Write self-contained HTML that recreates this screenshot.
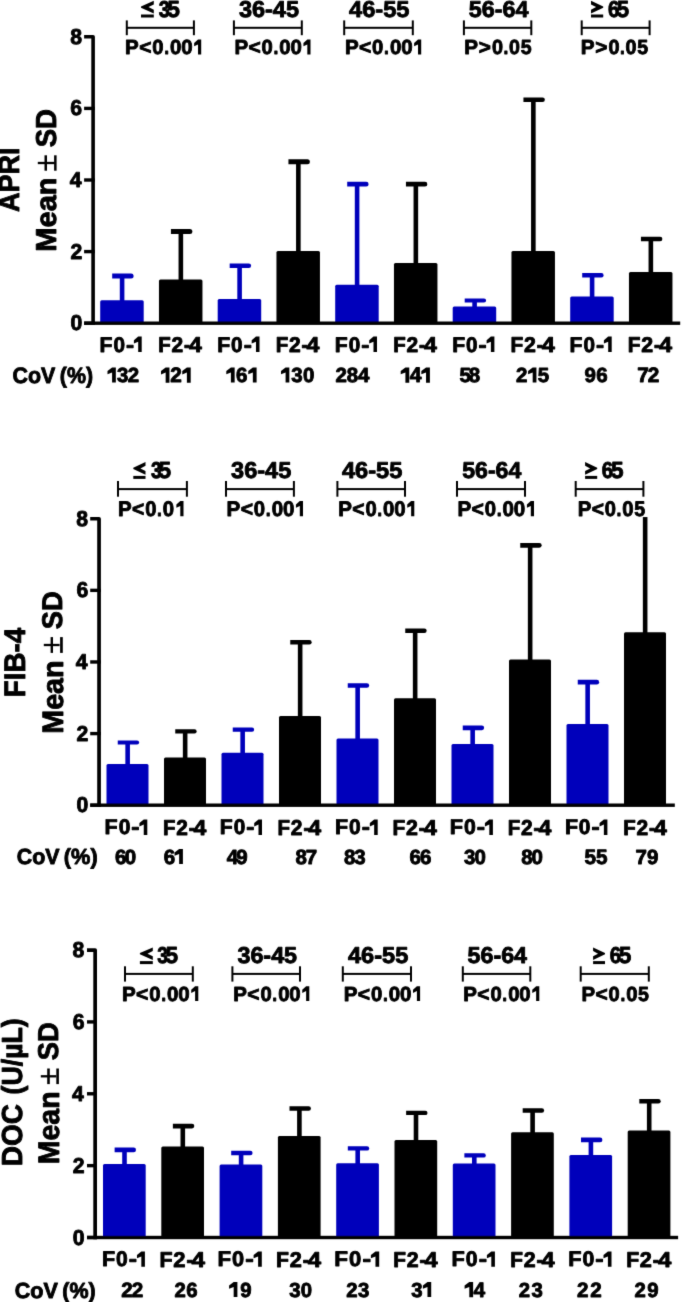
<!DOCTYPE html>
<html><head><meta charset="utf-8"><style>
html,body{margin:0;padding:0;background:#fff;width:685px;height:1302px;overflow:hidden}
svg{display:block;will-change:transform}
text{font-family:"Liberation Sans",sans-serif;font-weight:bold;fill:#000;stroke:#000;stroke-width:0.90px;stroke-linejoin:round;text-rendering:geometricPrecision}
</style></head><body>
<svg width="685" height="1302" viewBox="0 0 685 1302">
<defs><filter id="bl" x="0" y="0" width="685" height="1302" filterUnits="userSpaceOnUse"><feConvolveMatrix order="3" kernelMatrix="0.01134 0.08382 0.01134 0.08382 0.61935 0.08382 0.01134 0.08382 0.01134" divisor="1" edgeMode="duplicate" preserveAlpha="false"/></filter></defs>
<rect width="685" height="1302" fill="#fff"/>
<g filter="url(#bl)">
<rect x="100.20" y="300.30" width="43.50" height="22.90" fill="#0000bb" rx="1.5"/>
<rect x="119.80" y="276.10" width="4.60" height="25.20" fill="#0000bb"/>
<path d="M112.20,273.60 H131.10 A2.50,2.50 0 0 1 131.10,278.60 H112.20 Z" fill="#0000bb"/>
<rect x="158.95" y="279.40" width="43.50" height="43.80" fill="#000" rx="1.5"/>
<rect x="178.55" y="231.50" width="4.60" height="48.90" fill="#000"/>
<path d="M170.95,229.00 H189.85 A2.50,2.50 0 0 1 189.85,234.00 H170.95 Z" fill="#000"/>
<rect x="217.70" y="298.90" width="43.50" height="24.30" fill="#0000bb" rx="1.5"/>
<rect x="237.30" y="265.70" width="4.60" height="34.20" fill="#0000bb"/>
<path d="M229.70,263.40 H248.80 A2.30,2.30 0 0 1 248.80,268.00 H229.70 Z" fill="#0000bb"/>
<rect x="276.45" y="251.00" width="43.50" height="72.20" fill="#000" rx="1.5"/>
<rect x="296.05" y="161.70" width="4.60" height="90.30" fill="#000"/>
<path d="M288.45,159.20 H307.35 A2.50,2.50 0 0 1 307.35,164.20 H288.45 Z" fill="#000"/>
<rect x="335.20" y="284.80" width="43.50" height="38.40" fill="#0000bb" rx="1.5"/>
<rect x="354.80" y="184.15" width="4.60" height="101.65" fill="#0000bb"/>
<path d="M347.20,181.80 H366.25 A2.35,2.35 0 0 1 366.25,186.50 H347.20 Z" fill="#0000bb"/>
<rect x="393.95" y="263.00" width="43.50" height="60.20" fill="#000" rx="1.5"/>
<rect x="413.55" y="184.15" width="4.60" height="79.85" fill="#000"/>
<path d="M405.95,181.80 H425.00 A2.35,2.35 0 0 1 425.00,186.50 H405.95 Z" fill="#000"/>
<rect x="452.70" y="306.40" width="43.50" height="16.80" fill="#0000bb" rx="1.5"/>
<rect x="472.30" y="300.50" width="4.60" height="6.90" fill="#0000bb"/>
<path d="M464.70,298.40 H484.00 A2.10,2.10 0 0 1 484.00,302.60 H464.70 Z" fill="#0000bb"/>
<rect x="511.45" y="251.00" width="43.50" height="72.20" fill="#000" rx="1.5"/>
<rect x="531.05" y="99.70" width="4.60" height="152.30" fill="#000"/>
<path d="M523.45,97.40 H542.55 A2.30,2.30 0 0 1 542.55,102.00 H523.45 Z" fill="#000"/>
<rect x="570.20" y="296.40" width="43.50" height="26.80" fill="#0000bb" rx="1.5"/>
<rect x="589.80" y="275.35" width="4.60" height="22.05" fill="#0000bb"/>
<path d="M582.20,273.10 H601.35 A2.25,2.25 0 0 1 601.35,277.60 H582.20 Z" fill="#0000bb"/>
<rect x="628.95" y="272.00" width="43.50" height="51.20" fill="#000" rx="1.5"/>
<rect x="648.55" y="239.00" width="4.60" height="34.00" fill="#000"/>
<path d="M640.95,236.80 H660.15 A2.20,2.20 0 0 1 660.15,241.20 H640.95 Z" fill="#000"/>
<path d="M84.10,36.80 H93.10 V324.90" fill="none" stroke="#000" stroke-width="3.60" stroke-linejoin="round"/>
<rect x="84.10" y="106.70" width="10.80" height="3.40" fill="#000"/>
<rect x="84.10" y="178.30" width="10.80" height="3.40" fill="#000"/>
<rect x="84.10" y="249.90" width="10.80" height="3.40" fill="#000"/>
<rect x="84.10" y="321.50" width="10.80" height="3.40" fill="#000"/>
<rect x="84.10" y="321.50" width="596.10" height="3.40" fill="#000"/>
<text transform="translate(70.24,43.83) scale(0.9800,1)" font-size="21.61">8</text>
<text transform="translate(70.35,115.43) scale(0.9800,1)" font-size="21.61">6</text>
<text transform="translate(69.69,187.03) scale(0.9800,1)" font-size="21.61">4</text>
<text transform="translate(70.43,258.74) scale(0.9800,1)" font-size="21.61">2</text>
<text transform="translate(70.45,330.23) scale(0.9800,1)" font-size="21.61">0</text>
<rect x="125.80" y="20.40" width="2.00" height="14.80" fill="#000"/>
<rect x="192.90" y="20.40" width="2.00" height="14.80" fill="#000"/>
<rect x="126.80" y="26.80" width="67.10" height="2.00" fill="#000"/>
<rect x="232.90" y="20.40" width="2.00" height="14.80" fill="#000"/>
<rect x="300.80" y="20.40" width="2.00" height="14.80" fill="#000"/>
<rect x="233.90" y="26.80" width="67.90" height="2.00" fill="#000"/>
<rect x="343.20" y="20.40" width="2.00" height="14.80" fill="#000"/>
<rect x="411.80" y="20.40" width="2.00" height="14.80" fill="#000"/>
<rect x="344.20" y="26.80" width="68.60" height="2.00" fill="#000"/>
<rect x="462.90" y="20.40" width="2.00" height="14.80" fill="#000"/>
<rect x="530.30" y="20.40" width="2.00" height="14.80" fill="#000"/>
<rect x="463.90" y="26.80" width="67.40" height="2.00" fill="#000"/>
<rect x="580.70" y="20.40" width="2.00" height="14.80" fill="#000"/>
<rect x="648.60" y="20.40" width="2.00" height="14.80" fill="#000"/>
<rect x="581.70" y="26.80" width="67.90" height="2.00" fill="#000"/>
<text transform="translate(238.92,16.80) scale(1.0220,1)" font-size="22.99">36-45</text>
<text transform="translate(349.11,16.82) scale(1.0259,1)" font-size="23.02">46-55</text>
<text transform="translate(468.73,16.82) scale(1.0146,1)" font-size="23.02">56-64</text>
<rect x="141.00" y="14.50" width="12.80" height="3.00" fill="#000"/>
<polygon points="153.80,0.70 141.00,6.45 141.00,7.65 153.80,13.40 153.80,9.70 148.46,7.05 153.80,4.40" fill="#000"/>
<text transform="translate(158.83,16.80) scale(0.8600,1)" font-size="22.99">3</text>
<text transform="translate(167.33,16.82) scale(0.9755,1)" font-size="23.35">5</text>
<rect x="591.00" y="14.50" width="12.20" height="3.00" fill="#000"/>
<polygon points="591.00,0.70 603.20,6.45 603.20,7.65 591.00,13.40 591.00,9.70 596.09,7.05 591.00,4.40" fill="#000"/>
<text transform="translate(607.94,16.82) scale(0.8902,1)" font-size="23.02">6</text>
<text transform="translate(616.74,16.82) scale(0.9515,1)" font-size="23.35">5</text>
<text transform="translate(125.08,54.05) scale(1.0071,1)" font-size="20.34">P</text>
<text transform="translate(139.14,54.05) scale(1.0317,1)" font-size="20.34">&lt;</text>
<text transform="translate(152.25,54.05) scale(0.9927,1)" font-size="20.34">0</text>
<text transform="translate(164.21,54.05) scale(0.8561,1)" font-size="20.34">.</text>
<text transform="translate(169.99,54.05) scale(1.0022,1)" font-size="20.34">0</text>
<text transform="translate(181.18,54.05) scale(1.0022,1)" font-size="20.34">0</text>
<polygon points="198.02,39.60 201.20,39.60 201.20,54.50 198.02,54.50 198.02,44.52 194.14,46.31 194.14,43.03" fill="#000"/>
<text transform="translate(234.38,54.05) scale(1.0071,1)" font-size="20.34">P</text>
<text transform="translate(248.44,54.05) scale(1.0317,1)" font-size="20.34">&lt;</text>
<text transform="translate(261.55,54.05) scale(0.9927,1)" font-size="20.34">0</text>
<text transform="translate(273.51,54.05) scale(0.8561,1)" font-size="20.34">.</text>
<text transform="translate(279.29,54.05) scale(1.0022,1)" font-size="20.34">0</text>
<text transform="translate(290.48,54.05) scale(1.0022,1)" font-size="20.34">0</text>
<polygon points="307.32,39.60 310.50,39.60 310.50,54.50 307.32,54.50 307.32,44.52 303.44,46.31 303.44,43.03" fill="#000"/>
<text transform="translate(344.88,54.05) scale(1.0098,1)" font-size="20.34">P</text>
<text transform="translate(358.98,54.05) scale(1.0344,1)" font-size="20.34">&lt;</text>
<text transform="translate(372.12,54.05) scale(0.9953,1)" font-size="20.34">0</text>
<text transform="translate(384.11,54.05) scale(0.8584,1)" font-size="20.34">.</text>
<text transform="translate(389.91,54.05) scale(1.0049,1)" font-size="20.34">0</text>
<text transform="translate(401.13,54.05) scale(1.0049,1)" font-size="20.34">0</text>
<polygon points="418.02,39.60 421.20,39.60 421.20,54.50 418.02,54.50 418.02,44.52 414.12,46.31 414.12,43.03" fill="#000"/>
<text transform="translate(464.37,54.05) scale(1.0136,1)" font-size="20.34">P</text>
<text transform="translate(478.77,54.05) scale(1.0174,1)" font-size="20.34">&gt;</text>
<text transform="translate(492.01,54.05) scale(0.9738,1)" font-size="20.34">0</text>
<text transform="translate(503.45,54.05) scale(0.8480,1)" font-size="20.34">.</text>
<text transform="translate(509.08,54.05) scale(0.9644,1)" font-size="20.34">0</text>
<text transform="translate(520.74,54.05) scale(0.9614,1)" font-size="20.34">5</text>
<text transform="translate(580.77,54.05) scale(1.0167,1)" font-size="20.34">P</text>
<text transform="translate(595.21,54.05) scale(1.0205,1)" font-size="20.34">&gt;</text>
<text transform="translate(608.49,54.05) scale(0.9768,1)" font-size="20.34">0</text>
<text transform="translate(619.97,54.05) scale(0.8506,1)" font-size="20.34">.</text>
<text transform="translate(625.62,54.05) scale(0.9673,1)" font-size="20.34">0</text>
<text transform="translate(637.31,54.05) scale(0.9643,1)" font-size="20.34">5</text>
<text transform="translate(99.53,351.54) scale(1.0062,1)" font-size="21.05">F</text>
<text transform="translate(113.38,351.54) scale(0.9847,1)" font-size="21.05">0</text>
<text transform="translate(125.89,351.54) scale(1.1508,1)" font-size="21.05">-</text>
<polygon points="138.19,336.61 141.70,336.61 141.70,351.99 138.19,351.99 138.19,341.69 133.91,343.53 133.91,340.15" fill="#000"/>
<text transform="translate(158.26,351.75) scale(0.9563,1)" font-size="21.35">F</text>
<text transform="translate(171.51,351.75) scale(0.9815,1)" font-size="21.35">2</text>
<text transform="translate(184.04,351.75) scale(0.8433,1)" font-size="21.35">-</text>
<text transform="translate(188.89,351.75) scale(1.0820,1)" font-size="21.35">4</text>
<text transform="translate(217.23,351.54) scale(1.0086,1)" font-size="21.05">F</text>
<text transform="translate(231.11,351.54) scale(0.9871,1)" font-size="21.05">0</text>
<text transform="translate(243.65,351.54) scale(1.1536,1)" font-size="21.05">-</text>
<polygon points="255.98,336.61 259.50,336.61 259.50,351.99 255.98,351.99 255.98,341.69 251.69,343.53 251.69,340.15" fill="#000"/>
<text transform="translate(275.66,351.75) scale(0.9608,1)" font-size="21.35">F</text>
<text transform="translate(288.97,351.75) scale(0.9861,1)" font-size="21.35">2</text>
<text transform="translate(301.56,351.75) scale(0.8472,1)" font-size="21.35">-</text>
<text transform="translate(306.43,351.75) scale(1.0870,1)" font-size="21.35">4</text>
<text transform="translate(334.83,351.54) scale(1.0062,1)" font-size="21.05">F</text>
<text transform="translate(348.68,351.54) scale(0.9847,1)" font-size="21.05">0</text>
<text transform="translate(361.19,351.54) scale(1.1508,1)" font-size="21.05">-</text>
<polygon points="373.49,336.61 377.00,336.61 377.00,351.99 373.49,351.99 373.49,341.69 369.21,343.53 369.21,340.15" fill="#000"/>
<text transform="translate(393.26,351.75) scale(0.9586,1)" font-size="21.35">F</text>
<text transform="translate(406.54,351.75) scale(0.9838,1)" font-size="21.35">2</text>
<text transform="translate(419.10,351.75) scale(0.8453,1)" font-size="21.35">-</text>
<text transform="translate(423.96,351.75) scale(1.0845,1)" font-size="21.35">4</text>
<text transform="translate(452.23,351.54) scale(1.0062,1)" font-size="21.05">F</text>
<text transform="translate(466.08,351.54) scale(0.9847,1)" font-size="21.05">0</text>
<text transform="translate(478.59,351.54) scale(1.1508,1)" font-size="21.05">-</text>
<polygon points="490.89,336.61 494.40,336.61 494.40,351.99 490.89,351.99 490.89,341.69 486.61,343.53 486.61,340.15" fill="#000"/>
<text transform="translate(510.55,351.75) scale(0.9742,1)" font-size="21.35">F</text>
<text transform="translate(524.04,351.75) scale(0.9998,1)" font-size="21.35">2</text>
<text transform="translate(536.80,351.75) scale(0.8590,1)" font-size="21.35">-</text>
<text transform="translate(541.74,351.75) scale(1.1021,1)" font-size="21.35">4</text>
<text transform="translate(569.53,351.54) scale(1.0062,1)" font-size="21.05">F</text>
<text transform="translate(583.38,351.54) scale(0.9847,1)" font-size="21.05">0</text>
<text transform="translate(595.89,351.54) scale(1.1508,1)" font-size="21.05">-</text>
<polygon points="608.19,336.61 611.70,336.61 611.70,351.99 608.19,351.99 608.19,341.69 603.91,343.53 603.91,340.15" fill="#000"/>
<text transform="translate(627.85,351.75) scale(0.9742,1)" font-size="21.35">F</text>
<text transform="translate(641.34,351.75) scale(0.9998,1)" font-size="21.35">2</text>
<text transform="translate(654.10,351.75) scale(0.8590,1)" font-size="21.35">-</text>
<text transform="translate(659.04,351.75) scale(1.1021,1)" font-size="21.35">4</text>
<text transform="translate(12.45,382.93) scale(0.9604,1)" font-size="22.32">CoV</text>
<text transform="translate(59.76,382.93) scale(0.9589,1)" font-size="22.32">(%)</text>
<polygon points="112.09,367.60 115.84,367.60 115.84,382.58 112.09,382.58 112.09,372.54 107.50,374.34 107.50,371.05" fill="#000"/>
<text transform="translate(116.97,382.13)" font-size="20.45">3</text>
<text transform="translate(127.70,382.13)" font-size="20.45">2</text>
<polygon points="165.65,367.61 169.46,367.61 169.46,382.80 165.65,382.80 165.65,372.62 161.00,374.44 161.00,371.10" fill="#000"/>
<text transform="translate(170.34,382.35)" font-size="20.77">2</text>
<polygon points="186.89,367.61 190.70,367.61 190.70,382.80 186.89,382.80 186.89,372.62 182.24,374.44 182.24,371.10" fill="#000"/>
<polygon points="230.90,367.60 234.65,367.60 234.65,382.60 230.90,382.60 230.90,372.55 226.30,374.35 226.30,371.05" fill="#000"/>
<text transform="translate(236.02,382.15)" font-size="20.48">6</text>
<polygon points="252.84,367.60 256.60,367.60 256.60,382.60 252.84,382.60 252.84,372.55 248.25,374.35 248.25,371.05" fill="#000"/>
<polygon points="285.59,367.60 289.34,367.60 289.34,382.58 285.59,382.58 285.59,372.54 281.00,374.34 281.00,371.05" fill="#000"/>
<text transform="translate(291.34,382.13)" font-size="20.45">3</text>
<text transform="translate(302.92,382.13)" font-size="20.45">0</text>
<text transform="translate(335.53,382.15)" font-size="20.48">2</text>
<text transform="translate(346.75,382.15)" font-size="20.48">8</text>
<text transform="translate(357.97,382.15)" font-size="20.48">4</text>
<polygon points="405.41,367.40 409.27,367.40 409.27,382.80 405.41,382.80 405.41,372.48 400.70,374.33 400.70,370.94" fill="#000"/>
<text transform="translate(409.71,382.35)" font-size="21.08">4</text>
<polygon points="426.04,367.40 429.90,367.40 429.90,382.80 426.04,382.80 426.04,372.48 421.33,374.33 421.33,370.94" fill="#000"/>
<text transform="translate(459.52,382.15)" font-size="20.48">5</text>
<text transform="translate(468.80,382.15)" font-size="20.48">8</text>
<text transform="translate(515.93,382.15)" font-size="20.48">2</text>
<polygon points="532.68,367.60 536.44,367.60 536.44,382.60 532.68,382.60 532.68,372.55 528.08,374.35 528.08,371.05" fill="#000"/>
<text transform="translate(537.74,382.15)" font-size="20.48">5</text>
<text transform="translate(584.53,382.15)" font-size="20.48">9</text>
<text transform="translate(596.30,382.15)" font-size="20.48">6</text>
<text transform="translate(637.36,382.35)" font-size="20.77">7</text>
<text transform="translate(647.73,382.35)" font-size="20.77">2</text>
<text transform="translate(19.45,212.06) rotate(-90) scale(0.9204,1)" font-size="29.36">APRI</text>
<text transform="translate(55.85,251.69) rotate(-90) scale(1.0092,1)" font-size="28.78">Mean</text>
<text transform="translate(55.55,147.37) rotate(-90) scale(0.9580,1)" font-size="28.78">SD</text>
<rect x="37.80" y="161.85" width="16.90" height="2.30" fill="#000"/>
<rect x="44.50" y="155.30" width="2.50" height="15.40" fill="#000"/>
<rect x="54.10" y="155.30" width="2.50" height="15.40" fill="#000"/>
<rect x="106.50" y="764.00" width="42.00" height="41.20" fill="#0000bb" rx="1.5"/>
<rect x="125.35" y="742.50" width="4.60" height="22.50" fill="#0000bb"/>
<path d="M117.75,740.40 H137.05 A2.10,2.10 0 0 1 137.05,744.60 H117.75 Z" fill="#0000bb"/>
<rect x="164.00" y="757.40" width="42.00" height="47.80" fill="#000" rx="1.5"/>
<rect x="182.85" y="731.45" width="4.60" height="26.95" fill="#000"/>
<path d="M175.25,729.30 H194.50 A2.15,2.15 0 0 1 194.50,733.60 H175.25 Z" fill="#000"/>
<rect x="221.50" y="752.80" width="42.00" height="52.40" fill="#0000bb" rx="1.5"/>
<rect x="240.35" y="729.70" width="4.60" height="24.10" fill="#0000bb"/>
<path d="M232.75,727.60 H252.05 A2.10,2.10 0 0 1 252.05,731.80 H232.75 Z" fill="#0000bb"/>
<rect x="279.00" y="716.00" width="42.00" height="89.20" fill="#000" rx="1.5"/>
<rect x="297.85" y="642.20" width="4.60" height="74.80" fill="#000"/>
<path d="M290.25,640.00 H309.45 A2.20,2.20 0 0 1 309.45,644.40 H290.25 Z" fill="#000"/>
<rect x="336.50" y="738.40" width="42.00" height="66.80" fill="#0000bb" rx="1.5"/>
<rect x="355.35" y="685.45" width="4.60" height="53.95" fill="#0000bb"/>
<path d="M347.75,683.20 H366.90 A2.25,2.25 0 0 1 366.90,687.70 H347.75 Z" fill="#0000bb"/>
<rect x="394.00" y="698.20" width="42.00" height="107.00" fill="#000" rx="1.5"/>
<rect x="412.85" y="630.75" width="4.60" height="68.45" fill="#000"/>
<path d="M405.25,628.50 H424.40 A2.25,2.25 0 0 1 424.40,633.00 H405.25 Z" fill="#000"/>
<rect x="451.50" y="743.90" width="42.00" height="61.30" fill="#0000bb" rx="1.5"/>
<rect x="470.35" y="727.85" width="4.60" height="17.05" fill="#0000bb"/>
<path d="M462.75,725.50 H481.80 A2.35,2.35 0 0 1 481.80,730.20 H462.75 Z" fill="#0000bb"/>
<rect x="509.00" y="659.50" width="42.00" height="145.70" fill="#000" rx="1.5"/>
<rect x="527.85" y="545.35" width="4.60" height="115.15" fill="#000"/>
<path d="M520.25,543.00 H539.30 A2.35,2.35 0 0 1 539.30,547.70 H520.25 Z" fill="#000"/>
<rect x="566.50" y="724.10" width="42.00" height="81.10" fill="#0000bb" rx="1.5"/>
<rect x="585.35" y="682.15" width="4.60" height="42.95" fill="#0000bb"/>
<path d="M577.75,679.80 H596.80 A2.35,2.35 0 0 1 596.80,684.50 H577.75 Z" fill="#0000bb"/>
<rect x="624.00" y="632.30" width="42.00" height="172.90" fill="#000" rx="1.5"/>
<rect x="642.85" y="517.05" width="4.60" height="116.25" fill="#000"/>
<path d="M90.20,518.75 H99.05 V806.90" fill="none" stroke="#000" stroke-width="3.70" stroke-linejoin="round"/>
<rect x="90.20" y="588.66" width="10.70" height="3.40" fill="#000"/>
<rect x="90.20" y="660.27" width="10.70" height="3.40" fill="#000"/>
<rect x="90.20" y="731.89" width="10.70" height="3.40" fill="#000"/>
<rect x="90.20" y="803.50" width="10.70" height="3.40" fill="#000"/>
<rect x="90.20" y="803.50" width="584.60" height="3.40" fill="#000"/>
<text transform="translate(76.34,525.78) scale(0.9800,1)" font-size="21.61">8</text>
<text transform="translate(76.45,597.40) scale(0.9800,1)" font-size="21.61">6</text>
<text transform="translate(75.79,669.01) scale(0.9800,1)" font-size="21.61">4</text>
<text transform="translate(76.53,740.73) scale(0.9800,1)" font-size="21.61">2</text>
<text transform="translate(76.55,812.23) scale(0.9800,1)" font-size="21.61">0</text>
<rect x="117.00" y="481.00" width="2.00" height="15.70" fill="#000"/>
<rect x="185.90" y="481.00" width="2.00" height="15.70" fill="#000"/>
<rect x="118.00" y="488.10" width="68.90" height="2.00" fill="#000"/>
<rect x="225.00" y="481.00" width="2.00" height="15.70" fill="#000"/>
<rect x="292.90" y="481.00" width="2.00" height="15.70" fill="#000"/>
<rect x="226.00" y="488.10" width="67.90" height="2.00" fill="#000"/>
<rect x="336.40" y="481.00" width="2.00" height="15.70" fill="#000"/>
<rect x="404.00" y="481.00" width="2.00" height="15.70" fill="#000"/>
<rect x="337.40" y="488.10" width="67.60" height="2.00" fill="#000"/>
<rect x="456.00" y="481.00" width="2.00" height="15.70" fill="#000"/>
<rect x="524.00" y="481.00" width="2.00" height="15.70" fill="#000"/>
<rect x="457.00" y="488.10" width="68.00" height="2.00" fill="#000"/>
<rect x="574.70" y="481.00" width="2.00" height="15.70" fill="#000"/>
<rect x="642.40" y="481.00" width="2.00" height="15.70" fill="#000"/>
<rect x="575.70" y="488.10" width="67.70" height="2.00" fill="#000"/>
<text transform="translate(231.12,478.20) scale(1.0220,1)" font-size="22.99">36-45</text>
<text transform="translate(341.91,478.22) scale(1.0259,1)" font-size="23.02">46-55</text>
<text transform="translate(462.24,478.22) scale(1.0027,1)" font-size="23.02">56-64</text>
<rect x="133.30" y="475.90" width="12.20" height="3.00" fill="#000"/>
<polygon points="145.50,462.10 133.30,467.85 133.30,469.05 145.50,474.80 145.50,471.10 140.41,468.45 145.50,465.80" fill="#000"/>
<text transform="translate(151.03,478.20) scale(0.8275,1)" font-size="22.99">3</text>
<text transform="translate(158.53,478.22) scale(0.9675,1)" font-size="23.35">5</text>
<rect x="585.10" y="475.90" width="12.10" height="3.00" fill="#000"/>
<polygon points="585.10,462.10 597.20,467.85 597.20,469.05 585.10,474.80 585.10,471.10 590.15,468.45 585.10,465.80" fill="#000"/>
<text transform="translate(601.85,478.22) scale(0.8819,1)" font-size="23.02">6</text>
<text transform="translate(611.03,478.22) scale(0.9675,1)" font-size="23.35">5</text>
<text transform="translate(118.07,515.84) scale(0.9724,1)" font-size="21.05">P</text>
<text transform="translate(132.08,515.84) scale(0.9965,1)" font-size="21.05">&lt;</text>
<text transform="translate(145.15,515.84) scale(0.9589,1)" font-size="21.05">0</text>
<text transform="translate(157.07,515.84) scale(0.8313,1)" font-size="21.05">.</text>
<text transform="translate(162.83,515.84) scale(0.9681,1)" font-size="21.05">0</text>
<polygon points="180.29,500.91 183.50,500.91 183.50,516.29 180.29,516.29 180.29,505.99 176.37,507.83 176.37,504.45" fill="#000"/>
<text transform="translate(226.56,515.84) scale(0.9796,1)" font-size="21.05">P</text>
<text transform="translate(240.68,515.84) scale(1.0038,1)" font-size="21.05">&lt;</text>
<text transform="translate(253.84,515.84) scale(0.9660,1)" font-size="21.05">0</text>
<text transform="translate(265.85,515.84) scale(0.8374,1)" font-size="21.05">.</text>
<text transform="translate(271.65,515.84) scale(0.9752,1)" font-size="21.05">0</text>
<text transform="translate(282.88,515.84) scale(0.9752,1)" font-size="21.05">0</text>
<polygon points="299.81,500.91 303.00,500.91 303.00,516.29 299.81,516.29 299.81,505.99 295.92,507.83 295.92,504.45" fill="#000"/>
<text transform="translate(338.26,515.84) scale(0.9744,1)" font-size="21.05">P</text>
<text transform="translate(352.31,515.84) scale(0.9985,1)" font-size="21.05">&lt;</text>
<text transform="translate(365.40,515.84) scale(0.9608,1)" font-size="21.05">0</text>
<text transform="translate(377.34,515.84) scale(0.8330,1)" font-size="21.05">.</text>
<text transform="translate(383.11,515.84) scale(0.9701,1)" font-size="21.05">0</text>
<text transform="translate(394.29,515.84) scale(0.9701,1)" font-size="21.05">0</text>
<polygon points="411.13,500.91 414.30,500.91 414.30,516.29 411.13,516.29 411.13,505.99 407.25,507.83 407.25,504.45" fill="#000"/>
<text transform="translate(457.46,515.84) scale(0.9808,1)" font-size="21.05">P</text>
<text transform="translate(471.59,515.84) scale(1.0051,1)" font-size="21.05">&lt;</text>
<text transform="translate(484.77,515.84) scale(0.9672,1)" font-size="21.05">0</text>
<text transform="translate(496.80,515.84) scale(0.8385,1)" font-size="21.05">.</text>
<text transform="translate(502.61,515.84) scale(0.9765,1)" font-size="21.05">0</text>
<text transform="translate(513.86,515.84) scale(0.9765,1)" font-size="21.05">0</text>
<polygon points="530.81,500.91 534.00,500.91 534.00,516.29 530.81,516.29 530.81,505.99 526.91,507.83 526.91,504.45" fill="#000"/>
<text transform="translate(577.67,515.84) scale(0.9708,1)" font-size="21.05">P</text>
<text transform="translate(591.66,515.84) scale(0.9948,1)" font-size="21.05">&lt;</text>
<text transform="translate(604.70,515.84) scale(0.9573,1)" font-size="21.05">0</text>
<text transform="translate(616.60,515.84) scale(0.8299,1)" font-size="21.05">.</text>
<text transform="translate(622.35,515.84) scale(0.9665,1)" font-size="21.05">0</text>
<text transform="translate(634.18,515.84) scale(0.9360,1)" font-size="21.05">5</text>
<text transform="translate(104.62,834.44) scale(1.0121,1)" font-size="21.19">F</text>
<text transform="translate(118.63,834.44) scale(0.9906,1)" font-size="21.19">0</text>
<text transform="translate(131.29,834.44) scale(1.1581,1)" font-size="21.19">-</text>
<polygon points="143.75,819.41 147.30,819.41 147.30,834.89 143.75,834.89 143.75,824.52 139.41,826.38 139.41,822.97" fill="#000"/>
<text transform="translate(163.06,834.65) scale(0.9460,1)" font-size="21.49">F</text>
<text transform="translate(176.25,834.65) scale(0.9710,1)" font-size="21.49">2</text>
<text transform="translate(188.72,834.65) scale(0.8346,1)" font-size="21.49">-</text>
<text transform="translate(193.55,834.65) scale(1.0703,1)" font-size="21.49">4</text>
<text transform="translate(219.83,834.44) scale(1.0000,1)" font-size="21.19">F</text>
<text transform="translate(233.67,834.44) scale(0.9787,1)" font-size="21.19">0</text>
<text transform="translate(246.18,834.44) scale(1.1442,1)" font-size="21.19">-</text>
<polygon points="258.49,819.41 262.00,819.41 262.00,834.89 258.49,834.89 258.49,824.52 254.21,826.38 254.21,822.97" fill="#000"/>
<text transform="translate(277.56,834.65) scale(0.9527,1)" font-size="21.49">F</text>
<text transform="translate(290.84,834.65) scale(0.9778,1)" font-size="21.49">2</text>
<text transform="translate(303.39,834.65) scale(0.8404,1)" font-size="21.49">-</text>
<text transform="translate(308.25,834.65) scale(1.0778,1)" font-size="21.49">4</text>
<text transform="translate(335.12,834.44) scale(1.0097,1)" font-size="21.19">F</text>
<text transform="translate(349.10,834.44) scale(0.9882,1)" font-size="21.19">0</text>
<text transform="translate(361.73,834.44) scale(1.1553,1)" font-size="21.19">-</text>
<polygon points="374.16,819.41 377.70,819.41 377.70,834.89 374.16,834.89 374.16,824.52 369.83,826.38 369.83,822.97" fill="#000"/>
<text transform="translate(392.44,834.65) scale(0.9704,1)" font-size="21.49">F</text>
<text transform="translate(405.97,834.65) scale(0.9960,1)" font-size="21.49">2</text>
<text transform="translate(418.76,834.65) scale(0.8561,1)" font-size="21.49">-</text>
<text transform="translate(423.71,834.65) scale(1.0978,1)" font-size="21.49">4</text>
<text transform="translate(449.71,834.44) scale(1.0243,1)" font-size="21.19">F</text>
<text transform="translate(463.88,834.44) scale(1.0025,1)" font-size="21.19">0</text>
<text transform="translate(476.70,834.44) scale(1.1720,1)" font-size="21.19">-</text>
<polygon points="489.31,819.41 492.90,819.41 492.90,834.89 489.31,834.89 489.31,824.52 484.92,826.38 484.92,822.97" fill="#000"/>
<text transform="translate(507.76,834.65) scale(0.9504,1)" font-size="21.49">F</text>
<text transform="translate(521.01,834.65) scale(0.9755,1)" font-size="21.49">2</text>
<text transform="translate(533.54,834.65) scale(0.8385,1)" font-size="21.49">-</text>
<text transform="translate(538.38,834.65) scale(1.0753,1)" font-size="21.49">4</text>
<text transform="translate(564.92,834.44) scale(1.0073,1)" font-size="21.19">F</text>
<text transform="translate(578.87,834.44) scale(0.9858,1)" font-size="21.19">0</text>
<text transform="translate(591.47,834.44) scale(1.1525,1)" font-size="21.19">-</text>
<polygon points="603.87,819.41 607.40,819.41 607.40,834.89 603.87,834.89 603.87,824.52 599.55,826.38 599.55,822.97" fill="#000"/>
<text transform="translate(623.26,834.65) scale(0.9504,1)" font-size="21.49">F</text>
<text transform="translate(636.51,834.65) scale(0.9755,1)" font-size="21.49">2</text>
<text transform="translate(649.04,834.65) scale(0.8385,1)" font-size="21.49">-</text>
<text transform="translate(653.88,834.65) scale(1.0753,1)" font-size="21.49">4</text>
<text transform="translate(16.76,863.63) scale(0.9786,1)" font-size="21.89">CoV</text>
<text transform="translate(63.86,863.63) scale(0.9923,1)" font-size="21.89">(%)</text>
<text transform="translate(114.99,863.55)" font-size="20.48">6</text>
<text transform="translate(124.70,863.55)" font-size="20.48">0</text>
<text transform="translate(163.69,863.55)" font-size="20.48">6</text>
<polygon points="179.14,849.00 182.90,849.00 182.90,864.00 179.14,864.00 179.14,853.95 174.55,855.75 174.55,852.45" fill="#000"/>
<text transform="translate(226.74,863.55)" font-size="20.48">4</text>
<text transform="translate(236.32,863.55)" font-size="20.48">9</text>
<text transform="translate(295.39,863.55)" font-size="20.48">8</text>
<text transform="translate(305.86,863.55)" font-size="20.48">7</text>
<text transform="translate(344.00,863.53)" font-size="20.45">8</text>
<text transform="translate(354.22,863.53)" font-size="20.45">3</text>
<text transform="translate(409.59,863.55)" font-size="20.48">6</text>
<text transform="translate(419.90,863.55)" font-size="20.48">6</text>
<text transform="translate(463.98,863.53)" font-size="20.45">3</text>
<text transform="translate(474.42,863.53)" font-size="20.45">0</text>
<text transform="translate(521.29,863.55)" font-size="20.48">8</text>
<text transform="translate(531.60,863.55)" font-size="20.48">0</text>
<text transform="translate(584.61,863.54)" font-size="20.77">5</text>
<text transform="translate(595.98,863.54)" font-size="20.77">5</text>
<text transform="translate(635.57,863.55)" font-size="20.48">7</text>
<text transform="translate(647.12,863.55)" font-size="20.48">9</text>
<text transform="translate(25.45,697.24) rotate(-90) scale(0.9356,1)" font-size="29.65">FIB-4</text>
<text transform="translate(62.55,733.68) rotate(-90) scale(0.9709,1)" font-size="29.51">Mean</text>
<text transform="translate(61.55,629.26) rotate(-90) scale(0.9571,1)" font-size="28.49">SD</text>
<rect x="43.80" y="643.85" width="15.80" height="2.30" fill="#000"/>
<rect x="50.60" y="637.10" width="2.40" height="15.80" fill="#000"/>
<rect x="60.10" y="637.10" width="2.70" height="15.80" fill="#000"/>
<rect x="103.00" y="1164.10" width="42.70" height="73.40" fill="#0000bb" rx="1.5"/>
<rect x="122.20" y="1149.90" width="4.60" height="15.20" fill="#0000bb"/>
<path d="M114.60,1147.60 H133.70 A2.30,2.30 0 0 1 133.70,1152.20 H114.60 Z" fill="#0000bb"/>
<rect x="161.30" y="1146.60" width="42.70" height="90.90" fill="#000" rx="1.5"/>
<rect x="180.50" y="1126.10" width="4.60" height="21.50" fill="#000"/>
<path d="M172.90,1123.80 H192.00 A2.30,2.30 0 0 1 192.00,1128.40 H172.90 Z" fill="#000"/>
<rect x="219.60" y="1164.40" width="42.70" height="73.10" fill="#0000bb" rx="1.5"/>
<rect x="238.80" y="1153.05" width="4.60" height="12.35" fill="#0000bb"/>
<path d="M231.20,1150.80 H250.35 A2.25,2.25 0 0 1 250.35,1155.30 H231.20 Z" fill="#0000bb"/>
<rect x="277.90" y="1136.10" width="42.70" height="101.40" fill="#000" rx="1.5"/>
<rect x="297.10" y="1108.55" width="4.60" height="28.55" fill="#000"/>
<path d="M289.50,1106.30 H308.65 A2.25,2.25 0 0 1 308.65,1110.80 H289.50 Z" fill="#000"/>
<rect x="336.20" y="1163.30" width="42.70" height="74.20" fill="#0000bb" rx="1.5"/>
<rect x="355.40" y="1148.40" width="4.60" height="15.90" fill="#0000bb"/>
<path d="M347.80,1146.20 H367.00 A2.20,2.20 0 0 1 367.00,1150.60 H347.80 Z" fill="#0000bb"/>
<rect x="394.50" y="1139.90" width="42.70" height="97.60" fill="#000" rx="1.5"/>
<rect x="413.70" y="1112.90" width="4.60" height="28.00" fill="#000"/>
<path d="M406.10,1110.70 H425.30 A2.20,2.20 0 0 1 425.30,1115.10 H406.10 Z" fill="#000"/>
<rect x="452.80" y="1163.60" width="42.70" height="73.90" fill="#0000bb" rx="1.5"/>
<rect x="472.00" y="1155.40" width="4.60" height="9.20" fill="#0000bb"/>
<path d="M464.40,1153.20 H483.60 A2.20,2.20 0 0 1 483.60,1157.60 H464.40 Z" fill="#0000bb"/>
<rect x="511.10" y="1132.20" width="42.70" height="105.30" fill="#000" rx="1.5"/>
<rect x="530.30" y="1110.50" width="4.60" height="22.70" fill="#000"/>
<path d="M522.70,1108.30 H541.90 A2.20,2.20 0 0 1 541.90,1112.70 H522.70 Z" fill="#000"/>
<rect x="569.40" y="1154.90" width="42.70" height="82.60" fill="#0000bb" rx="1.5"/>
<rect x="588.60" y="1139.90" width="4.60" height="16.00" fill="#0000bb"/>
<path d="M581.00,1137.60 H600.10 A2.30,2.30 0 0 1 600.10,1142.20 H581.00 Z" fill="#0000bb"/>
<rect x="627.70" y="1130.50" width="42.70" height="107.00" fill="#000" rx="1.5"/>
<rect x="646.90" y="1101.30" width="4.60" height="30.20" fill="#000"/>
<path d="M639.30,1099.00 H658.40 A2.30,2.30 0 0 1 658.40,1103.60 H639.30 Z" fill="#000"/>
<path d="M87.00,950.05 H95.15 V1239.20" fill="none" stroke="#000" stroke-width="3.70" stroke-linejoin="round"/>
<rect x="87.00" y="1020.21" width="10.00" height="3.40" fill="#000"/>
<rect x="87.00" y="1092.08" width="10.00" height="3.40" fill="#000"/>
<rect x="87.00" y="1163.94" width="10.00" height="3.40" fill="#000"/>
<rect x="87.00" y="1235.80" width="10.00" height="3.40" fill="#000"/>
<rect x="87.00" y="1235.80" width="591.10" height="3.40" fill="#000"/>
<text transform="translate(72.54,957.08) scale(0.9800,1)" font-size="21.61">8</text>
<text transform="translate(72.65,1028.95) scale(0.9800,1)" font-size="21.61">6</text>
<text transform="translate(71.99,1100.81) scale(0.9800,1)" font-size="21.61">4</text>
<text transform="translate(72.73,1172.78) scale(0.9800,1)" font-size="21.61">2</text>
<text transform="translate(72.75,1244.53) scale(0.9800,1)" font-size="21.61">0</text>
<rect x="124.00" y="966.30" width="2.00" height="15.30" fill="#000"/>
<rect x="191.80" y="966.30" width="2.00" height="15.30" fill="#000"/>
<rect x="125.00" y="972.90" width="67.80" height="2.00" fill="#000"/>
<rect x="231.40" y="966.30" width="2.00" height="15.30" fill="#000"/>
<rect x="299.00" y="966.30" width="2.00" height="15.30" fill="#000"/>
<rect x="232.40" y="972.90" width="67.60" height="2.00" fill="#000"/>
<rect x="341.80" y="966.30" width="2.00" height="15.30" fill="#000"/>
<rect x="410.00" y="966.30" width="2.00" height="15.30" fill="#000"/>
<rect x="342.80" y="972.90" width="68.20" height="2.00" fill="#000"/>
<rect x="461.80" y="966.30" width="2.00" height="15.30" fill="#000"/>
<rect x="529.30" y="966.30" width="2.00" height="15.30" fill="#000"/>
<rect x="462.80" y="972.90" width="67.50" height="2.00" fill="#000"/>
<rect x="579.70" y="966.30" width="2.00" height="15.30" fill="#000"/>
<rect x="647.80" y="966.30" width="2.00" height="15.30" fill="#000"/>
<rect x="580.70" y="972.90" width="68.10" height="2.00" fill="#000"/>
<text transform="translate(237.42,963.40) scale(1.0213,1)" font-size="22.85">36-45</text>
<text transform="translate(347.91,963.42) scale(1.0321,1)" font-size="22.88">46-55</text>
<text transform="translate(467.54,963.42) scale(1.0173,1)" font-size="22.88">56-64</text>
<rect x="139.90" y="961.10" width="12.90" height="3.00" fill="#000"/>
<polygon points="152.80,947.40 139.90,953.10 139.90,954.30 152.80,960.00 152.80,956.30 147.48,953.70 152.80,951.10" fill="#000"/>
<text transform="translate(157.34,963.40) scale(0.8322,1)" font-size="22.85">3</text>
<text transform="translate(165.54,963.42) scale(0.9731,1)" font-size="23.21">5</text>
<rect x="593.10" y="961.10" width="11.90" height="3.00" fill="#000"/>
<polygon points="593.10,947.40 605.00,953.10 605.00,954.30 593.10,960.00 593.10,956.30 598.01,953.70 593.10,951.10" fill="#000"/>
<text transform="translate(609.75,963.42) scale(0.8869,1)" font-size="22.88">6</text>
<text transform="translate(618.64,963.42) scale(0.9731,1)" font-size="23.21">5</text>
<text transform="translate(121.88,1000.65) scale(1.0111,1)" font-size="20.34">P</text>
<text transform="translate(135.99,1000.65) scale(1.0358,1)" font-size="20.34">&lt;</text>
<text transform="translate(149.16,1000.65) scale(0.9966,1)" font-size="20.34">0</text>
<text transform="translate(161.16,1000.65) scale(0.8595,1)" font-size="20.34">.</text>
<text transform="translate(166.97,1000.65) scale(1.0062,1)" font-size="20.34">0</text>
<text transform="translate(178.20,1000.65) scale(1.0062,1)" font-size="20.34">0</text>
<polygon points="195.11,986.20 198.30,986.20 198.30,1001.10 195.11,1001.10 195.11,991.12 191.22,992.91 191.22,989.63" fill="#000"/>
<text transform="translate(233.28,1000.65) scale(1.0057,1)" font-size="20.34">P</text>
<text transform="translate(247.32,1000.65) scale(1.0303,1)" font-size="20.34">&lt;</text>
<text transform="translate(260.42,1000.65) scale(0.9914,1)" font-size="20.34">0</text>
<text transform="translate(272.36,1000.65) scale(0.8550,1)" font-size="20.34">.</text>
<text transform="translate(278.13,1000.65) scale(1.0009,1)" font-size="20.34">0</text>
<text transform="translate(289.31,1000.65) scale(1.0009,1)" font-size="20.34">0</text>
<polygon points="306.13,986.20 309.30,986.20 309.30,1001.10 306.13,1001.10 306.13,991.12 302.25,992.91 302.25,989.63" fill="#000"/>
<text transform="translate(343.68,1000.65) scale(1.0111,1)" font-size="20.34">P</text>
<text transform="translate(357.79,1000.65) scale(1.0358,1)" font-size="20.34">&lt;</text>
<text transform="translate(370.96,1000.65) scale(0.9966,1)" font-size="20.34">0</text>
<text transform="translate(382.96,1000.65) scale(0.8595,1)" font-size="20.34">.</text>
<text transform="translate(388.77,1000.65) scale(1.0062,1)" font-size="20.34">0</text>
<text transform="translate(400.00,1000.65) scale(1.0062,1)" font-size="20.34">0</text>
<polygon points="416.91,986.20 420.10,986.20 420.10,1001.10 416.91,1001.10 416.91,991.12 413.02,992.91 413.02,989.63" fill="#000"/>
<text transform="translate(463.28,1000.65) scale(1.0057,1)" font-size="20.34">P</text>
<text transform="translate(477.32,1000.65) scale(1.0303,1)" font-size="20.34">&lt;</text>
<text transform="translate(490.42,1000.65) scale(0.9914,1)" font-size="20.34">0</text>
<text transform="translate(502.36,1000.65) scale(0.8550,1)" font-size="20.34">.</text>
<text transform="translate(508.13,1000.65) scale(1.0009,1)" font-size="20.34">0</text>
<text transform="translate(519.31,1000.65) scale(1.0009,1)" font-size="20.34">0</text>
<polygon points="536.13,986.20 539.30,986.20 539.30,1001.10 536.13,1001.10 536.13,991.12 532.25,992.91 532.25,989.63" fill="#000"/>
<text transform="translate(581.49,1000.65) scale(1.0021,1)" font-size="20.34">P</text>
<text transform="translate(595.48,1000.65) scale(1.0266,1)" font-size="20.34">&lt;</text>
<text transform="translate(608.52,1000.65) scale(0.9877,1)" font-size="20.34">0</text>
<text transform="translate(620.42,1000.65) scale(0.8519,1)" font-size="20.34">.</text>
<text transform="translate(626.17,1000.65) scale(0.9972,1)" font-size="20.34">0</text>
<text transform="translate(637.99,1000.65) scale(0.9658,1)" font-size="20.34">5</text>
<text transform="translate(102.02,1266.34) scale(1.0233,1)" font-size="21.05">F</text>
<text transform="translate(116.09,1266.34) scale(1.0015,1)" font-size="21.05">0</text>
<text transform="translate(128.82,1266.34) scale(1.1703,1)" font-size="21.05">-</text>
<polygon points="141.33,1251.41 144.90,1251.41 144.90,1266.79 141.33,1266.79 141.33,1256.49 136.97,1258.33 136.97,1254.95" fill="#000"/>
<text transform="translate(159.42,1266.55) scale(1.0031,1)" font-size="21.35">F</text>
<text transform="translate(173.32,1266.55) scale(1.0296,1)" font-size="21.35">2</text>
<text transform="translate(186.46,1266.55) scale(0.8846,1)" font-size="21.35">-</text>
<text transform="translate(191.54,1266.55) scale(1.1349,1)" font-size="21.35">4</text>
<text transform="translate(217.48,1266.34) scale(1.0575,1)" font-size="21.05">F</text>
<text transform="translate(232.03,1266.34) scale(1.0349,1)" font-size="21.05">0</text>
<text transform="translate(245.18,1266.34) scale(1.2094,1)" font-size="21.05">-</text>
<polygon points="258.11,1251.41 261.80,1251.41 261.80,1266.79 258.11,1266.79 258.11,1256.49 253.61,1258.33 253.61,1254.95" fill="#000"/>
<text transform="translate(276.03,1266.55) scale(0.9920,1)" font-size="21.35">F</text>
<text transform="translate(289.77,1266.55) scale(1.0182,1)" font-size="21.35">2</text>
<text transform="translate(302.77,1266.55) scale(0.8747,1)" font-size="21.35">-</text>
<text transform="translate(307.79,1266.55) scale(1.1223,1)" font-size="21.35">4</text>
<text transform="translate(334.37,1266.34) scale(1.0697,1)" font-size="21.05">F</text>
<text transform="translate(349.09,1266.34) scale(1.0469,1)" font-size="21.05">0</text>
<text transform="translate(362.39,1266.34) scale(1.2234,1)" font-size="21.05">-</text>
<polygon points="375.47,1251.41 379.20,1251.41 379.20,1266.79 375.47,1266.79 375.47,1256.49 370.91,1258.33 370.91,1254.95" fill="#000"/>
<text transform="translate(393.25,1266.55) scale(0.9742,1)" font-size="21.35">F</text>
<text transform="translate(406.74,1266.55) scale(0.9998,1)" font-size="21.35">2</text>
<text transform="translate(419.50,1266.55) scale(0.8590,1)" font-size="21.35">-</text>
<text transform="translate(424.44,1266.55) scale(1.1021,1)" font-size="21.35">4</text>
<text transform="translate(451.61,1266.34) scale(1.0330,1)" font-size="21.05">F</text>
<text transform="translate(465.82,1266.34) scale(1.0110,1)" font-size="21.05">0</text>
<text transform="translate(478.66,1266.34) scale(1.1815,1)" font-size="21.05">-</text>
<polygon points="491.30,1251.41 494.90,1251.41 494.90,1266.79 491.30,1266.79 491.30,1256.49 486.90,1258.33 486.90,1254.95" fill="#000"/>
<text transform="translate(510.35,1266.55) scale(0.9742,1)" font-size="21.35">F</text>
<text transform="translate(523.84,1266.55) scale(0.9998,1)" font-size="21.35">2</text>
<text transform="translate(536.60,1266.55) scale(0.8590,1)" font-size="21.35">-</text>
<text transform="translate(541.54,1266.55) scale(1.1021,1)" font-size="21.35">4</text>
<text transform="translate(568.21,1266.34) scale(1.0330,1)" font-size="21.05">F</text>
<text transform="translate(582.42,1266.34) scale(1.0110,1)" font-size="21.05">0</text>
<text transform="translate(595.26,1266.34) scale(1.1815,1)" font-size="21.05">-</text>
<polygon points="607.90,1251.41 611.50,1251.41 611.50,1266.79 607.90,1266.79 607.90,1256.49 603.50,1258.33 603.50,1254.95" fill="#000"/>
<text transform="translate(626.13,1266.55) scale(0.9920,1)" font-size="21.35">F</text>
<text transform="translate(639.87,1266.55) scale(1.0182,1)" font-size="21.35">2</text>
<text transform="translate(652.87,1266.55) scale(0.8747,1)" font-size="21.35">-</text>
<text transform="translate(657.89,1266.55) scale(1.1223,1)" font-size="21.35">4</text>
<text transform="translate(14.76,1297.63) scale(0.9855,1)" font-size="21.89">CoV</text>
<text transform="translate(62.27,1297.63) scale(0.9800,1)" font-size="21.89">(%)</text>
<text transform="translate(121.13,1296.75)" font-size="20.63">2</text>
<text transform="translate(131.70,1296.75)" font-size="20.63">2</text>
<text transform="translate(174.54,1296.55)" font-size="20.34">2</text>
<text transform="translate(186.17,1296.55)" font-size="20.34">6</text>
<polygon points="233.67,1282.10 237.40,1282.10 237.40,1297.00 233.67,1297.00 233.67,1287.02 229.10,1288.81 229.10,1285.53" fill="#000"/>
<text transform="translate(240.19,1296.55)" font-size="20.34">9</text>
<text transform="translate(289.18,1296.53)" font-size="20.31">3</text>
<text transform="translate(300.79,1296.53)" font-size="20.31">0</text>
<text transform="translate(346.24,1296.53)" font-size="20.31">2</text>
<text transform="translate(357.99,1296.53)" font-size="20.31">3</text>
<text transform="translate(411.18,1296.53)" font-size="20.31">3</text>
<polygon points="427.47,1282.10 431.20,1282.10 431.20,1296.98 427.47,1296.98 427.47,1287.01 422.91,1288.80 422.91,1285.52" fill="#000"/>
<polygon points="469.29,1281.90 473.12,1281.90 473.12,1297.20 469.29,1297.20 469.29,1286.95 464.60,1288.79 464.60,1285.42" fill="#000"/>
<text transform="translate(473.52,1296.75)" font-size="20.93">4</text>
<text transform="translate(518.64,1296.53)" font-size="20.31">2</text>
<text transform="translate(531.49,1296.53)" font-size="20.31">3</text>
<text transform="translate(576.93,1296.75)" font-size="20.63">2</text>
<text transform="translate(590.20,1296.75)" font-size="20.63">2</text>
<text transform="translate(634.44,1296.55)" font-size="20.34">2</text>
<text transform="translate(647.29,1296.55)" font-size="20.34">9</text>
<text transform="translate(22.35,1166.24) rotate(-90) scale(0.9688,1)" font-size="28.92">DOC</text>
<text transform="translate(22.35,1094.42) rotate(-90) scale(0.9226,1)" font-size="28.92">(U/µL)</text>
<text transform="translate(58.95,1164.28) rotate(-90) scale(0.9621,1)" font-size="29.65">Mean</text>
<text transform="translate(58.25,1060.26) rotate(-90) scale(0.9550,1)" font-size="28.63">SD</text>
<rect x="40.80" y="1075.15" width="15.50" height="2.30" fill="#000"/>
<rect x="47.20" y="1068.50" width="2.60" height="15.60" fill="#000"/>
<rect x="56.30" y="1068.50" width="2.60" height="15.60" fill="#000"/>
</g>
</svg>
</body></html>
